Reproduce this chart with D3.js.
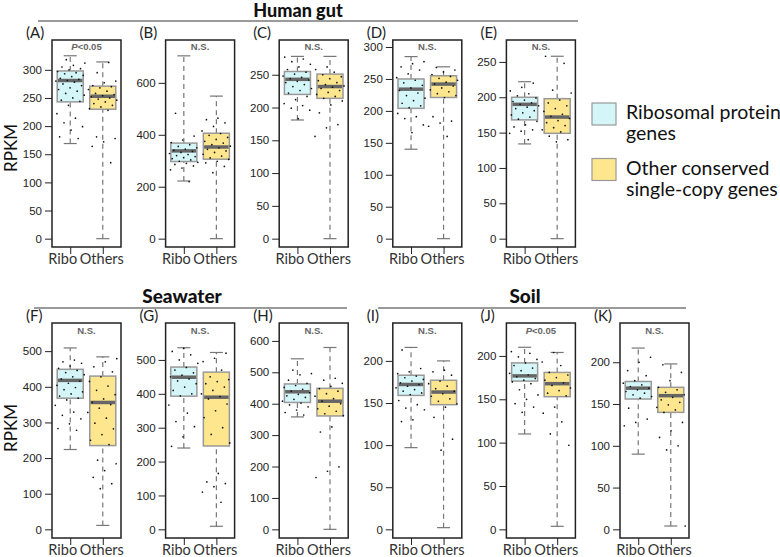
<!DOCTYPE html>
<html>
<head>
<meta charset="utf-8">
<style>
  body { margin: 0; background: #fff; }
  .axis .domain { display: none; }
  .axis text { font-family: "Liberation Sans", Arial, sans-serif; font-size: 11.5px; fill: #222; }
  .axis line { stroke: #222; }
  .xaxis text { font-family: Lato, sans-serif; font-size: 14.5px; fill: #333; }
</style>
</head>
<body>
<svg width="780" height="557"></svg>
<script src="https://d3js.org/d3.v7.min.js"></script>
<script>
  // Panels and their section
  var panels = ["A", "B", "C", "D", "E", "F", "G", "H", "I", "J", "K"];
  var groups = ["Ribo", "Others"];
  var sigLabels = ["P<0.05", "N.S.", "N.S.", "N.S.", "N.S.", "N.S.", "N.S.", "N.S.", "N.S.", "P<0.05", "N.S."];

  // y axis: value at the top of each frame, tick step and last labelled tick
  var yTops = [353, 765, 303, 311, 281, 579, 609, 657, 245, 238, 247];
  var tickSteps = [50, 200, 50, 50, 50, 100, 100, 100, 50, 50, 50];
  var tickMax = [300, 600, 250, 300, 250, 500, 500, 600, 200, 200, 200];

  // box stats: [lower whisker, Q1, median, Q3, upper whisker]
  var riboStats = [
    [169, 243, 281, 298, 325], [222, 297, 338, 368, 704], [181, 220, 243, 255, 278],
    [140, 204, 234, 250, 285], [134, 168, 190, 200, 222], [224, 368, 418, 449, 509],
    [240, 393, 449, 479, 536], [358, 404, 438, 463, 543], [97, 159, 172, 183, 216],
    [110, 171, 177, 192, 210], [90, 156, 169, 177, 217]
  ];
  var othersStats = [
    [0, 230, 253, 271, 314], [0, 306, 353, 406, 549], [0, 214, 232, 251, 278],
    [0, 221, 242, 255, 269], [0, 149, 172, 198, 258], [11, 235, 356, 430, 484],
    [9, 246, 390, 464, 522], [0, 361, 408, 449, 579], [2, 148, 163, 177, 200],
    [3.5, 153, 168, 181, 204], [4, 140, 160, 170, 198]
  ];

  // individual genes (RPKM)
  var riboPoints = [
    [318, 312, 308, 305, 302, 300, 297, 295, 293, 290, 288, 285, 283, 281, 280, 278, 275, 272, 268, 265, 262, 258, 255, 250, 246, 244, 237, 222, 214, 206, 199, 193, 181, 178],
    [483, 395, 380, 370, 362, 355, 350, 345, 340, 336, 332, 328, 324, 320, 316, 312, 308, 303, 298, 294, 290, 286, 280, 272, 265, 220],
    [277, 274, 270, 266, 262, 258, 254, 251, 248, 246, 244, 242, 240, 238, 235, 232, 229, 226, 222, 217, 212, 206, 203, 199, 196, 183],
    [277, 274, 269, 264, 258, 252, 248, 244, 240, 236, 232, 228, 224, 220, 216, 212, 208, 205, 196, 191, 188, 178, 166],
    [220, 214, 209, 205, 202, 199, 196, 194, 192, 190, 188, 186, 184, 181, 178, 175, 172, 169, 166, 161, 158, 154, 152, 149, 140],
    [475, 470, 466, 458, 452, 446, 440, 434, 428, 422, 416, 410, 404, 398, 392, 386, 380, 374, 368, 363, 348, 329, 320, 310, 296, 283, 278],
    [534, 525, 515, 500, 490, 478, 470, 462, 455, 450, 444, 438, 430, 420, 410, 400, 394, 367, 343, 318, 303, 273, 245],
    [507, 496, 492, 475, 465, 458, 452, 446, 440, 435, 430, 425, 420, 414, 408, 402, 396, 390, 380, 372, 364],
    [213, 191, 187, 185, 182, 180, 178, 176, 174, 172, 170, 168, 166, 164, 162, 160, 153, 148, 144, 142, 130, 128],
    [205, 203, 199, 196, 192, 189, 186, 183, 180, 178, 176, 174, 172, 170, 168, 161, 155, 150, 145, 141, 135],
    [206, 200, 190, 184, 178, 175, 173, 171, 169, 167, 165, 163, 161, 159, 157, 145, 132, 128, 124]
  ];
  var othersPoints = [
    [313, 295, 280, 277, 272, 270, 268, 265, 262, 258, 256, 254, 252, 250, 248, 246, 243, 240, 237, 234, 231, 228, 181, 178, 172, 164, 135],
    [464, 458, 446, 432, 415, 405, 398, 390, 382, 375, 368, 362, 356, 350, 344, 338, 332, 325, 318, 311, 305, 298, 292, 278, 254],
    [262, 258, 254, 250, 247, 244, 241, 238, 235, 233, 231, 229, 226, 223, 220, 217, 214, 210, 204, 192, 174, 169, 156],
    [268, 264, 261, 257, 254, 251, 248, 245, 242, 239, 236, 233, 230, 227, 224, 221, 191, 184, 181, 176, 160],
    [258, 248, 210, 206, 196, 192, 188, 184, 180, 176, 173, 170, 167, 164, 160, 157, 154, 151, 145, 140, 137],
    [479, 470, 456, 442, 428, 415, 402, 390, 378, 366, 356, 350, 340, 328, 312, 298, 282, 266, 250, 238, 194, 184, 165, 146, 128, 114],
    [520, 505, 495, 470, 450, 442, 436, 430, 420, 410, 400, 392, 385, 370, 350, 330, 300, 280, 255, 165, 140, 135, 126, 110, 80],
    [481, 475, 465, 455, 448, 440, 432, 424, 416, 408, 400, 392, 384, 376, 368, 362, 326, 310, 199, 185, 165],
    [189, 187, 183, 176, 173, 170, 167, 164, 161, 158, 155, 152, 149, 145, 133, 107, 94],
    [204, 193, 189, 181, 178, 175, 172, 169, 166, 163, 160, 157, 154, 141, 134, 124, 110, 97],
    [197, 188, 178, 170, 167, 164, 161, 158, 155, 152, 149, 146, 143, 140, 128, 118, 110, 100, 95, 4]
  ];

  var sections = ["Human gut", "Seawater", "Soil"];
  var legendLabels = [["Ribosomal protein", "genes"], ["Other conserved", "single-copy genes"]];
  var colors = ["#d4f6f9", "#fde68d"];

  // layout
  var svg = d3.select("svg");
  var rowOf = [0, 0, 0, 0, 0, 1, 1, 1, 1, 1, 1],
    slotOf = [0, 1, 2, 3, 4, 0, 1, 2, 3, 4, 5],
    rowTop = [40, 323],
    rowBottom = [247, 538],
    left0 = 52,
    slotStep = 113.6,
    frameW = 69;

  // section headings with rule underneath
  var heads = [
    { cx: 298, base: 16.5, ly: 21, x1: 38, x2: 578, size: 18 },
    { cx: 182, base: 303, ly: 308, x1: 34, x2: 347, size: 19 },
    { cx: 525, base: 303, ly: 308, x1: 378, x2: 686, size: 19 }
  ];
  heads.forEach(function(h, i) {
    svg.append("line")
      .attr("x1", h.x1).attr("x2", h.x2)
      .attr("y1", h.ly).attr("y2", h.ly)
      .attr("stroke", "#9a9a9a")
      .attr("stroke-width", 2);
    svg.append("text")
      .attr("x", h.cx).attr("y", h.base)
      .attr("text-anchor", "middle")
      .attr("font-family", "Lato, sans-serif")
      .attr("font-weight", 900)
      .attr("font-size", h.size)
      .attr("fill", "#111")
      .text(sections[i]);
  });

  // RPKM y titles
  [148, 428].forEach(function(cy) {
    svg.append("text")
      .attr("transform", "translate(17," + cy + ") rotate(-90)")
      .attr("text-anchor", "middle")
      .attr("font-family", "Lato, sans-serif")
      .attr("font-size", 17)
      .attr("fill", "#111")
      .text("RPKM");
  });

  // deterministic horizontal spread for the strip points
  function spread(i) {
    return ((i * 0.61803398875 + 0.37) % 1) - 0.5;
  }

  panels.forEach(function(p, i) {
    var r = rowOf[i],
      h = rowBottom[r] - rowTop[r],
      x0 = left0 + slotOf[i] * slotStep;

    var g = svg.append("g").attr("transform", "translate(" + x0 + "," + rowTop[r] + ")");

    var y = d3.scaleLinear().domain([-0.042 * yTops[i], yTops[i]]).range([h, 0]);
    var x = d3.scalePoint().domain(groups).range([0, frameW]).padding(0.56);
    var bw = x.step() * 0.8,
      cap = bw * 0.5;

    // y axis
    g.append("g")
      .attr("class", "axis")
      .call(d3.axisLeft(y)
        .tickValues(d3.range(0, tickMax[i] + 1, tickSteps[i]))
        .tickSize(7)
        .tickPadding(3));

    // x axis
    var xa = g.append("g")
      .attr("class", "axis xaxis")
      .attr("transform", "translate(0," + h + ")")
      .call(d3.axisBottom(x).tickSize(7).tickPadding(0));
    xa.selectAll(".tick text").attr("dx", function(d) { return d === "Ribo" ? -8 : -1.5; });

    var stats = [riboStats[i], othersStats[i]];
    var pts = [riboPoints[i], othersPoints[i]];

    groups.forEach(function(grp, k) {
      var s = stats[k], cx = x(grp);
      var bg = g.append("g");
      // whiskers
      bg.selectAll("line.wh")
        .data([[s[0], s[1]], [s[3], s[4]]])
        .enter().append("line")
        .attr("x1", cx).attr("x2", cx)
        .attr("y1", function(d) { return y(d[0]); })
        .attr("y2", function(d) { return y(d[1]); })
        .attr("stroke", "#777")
        .attr("stroke-width", 1.2)
        .attr("stroke-dasharray", "5,4");
      bg.selectAll("line.cap")
        .data([s[0], s[4]])
        .enter().append("line")
        .attr("x1", cx - cap / 2).attr("x2", cx + cap / 2)
        .attr("y1", function(d) { return y(d); })
        .attr("y2", function(d) { return y(d); })
        .attr("stroke", "#777")
        .attr("stroke-width", 1.2);
      // box
      bg.append("rect")
        .attr("x", cx - bw / 2)
        .attr("width", bw)
        .attr("y", y(s[3]))
        .attr("height", y(s[1]) - y(s[3]))
        .attr("fill", colors[k])
        .attr("stroke", "#999")
        .attr("stroke-width", 1.5);
      // median
      bg.append("line")
        .attr("x1", cx - bw / 2 + 0.8).attr("x2", cx + bw / 2 - 0.8)
        .attr("y1", y(s[2])).attr("y2", y(s[2]))
        .attr("stroke", "#666")
        .attr("stroke-width", 3.5);
      // strip points
      bg.selectAll("circle")
        .data(pts[k])
        .enter().append("circle")
        .attr("cx", function(d, j) { return cx + spread(j + k * 7 + i * 3) * 30; })
        .attr("cy", function(d) { return y(d); })
        .attr("r", 0.85)
        .attr("fill", "#111");
    });

    // frame
    g.append("rect")
      .attr("width", frameW)
      .attr("height", h)
      .attr("fill", "none")
      .attr("stroke", "#222")
      .attr("stroke-width", 1.5);

    // significance
    var sig = g.append("text")
      .attr("x", frameW / 2)
      .attr("y", r === 0 ? 9.5 : 11)
      .attr("text-anchor", "middle")
      .attr("font-family", "'Liberation Sans', Arial, sans-serif")
      .attr("font-weight", "bold")
      .attr("font-size", 9.5)
      .attr("fill", "#666");
    if (sigLabels[i].charAt(0) === "P") {
      sig.append("tspan").attr("font-style", "italic").text("P");
      sig.append("tspan").text(sigLabels[i].slice(1));
    } else {
      sig.text(sigLabels[i]);
    }

    // panel letter
    g.append("text")
      .attr("x", -26)
      .attr("y", -2)
      .attr("font-family", "Lato, sans-serif")
      .attr("font-size", 15)
      .attr("fill", "#222")
      .text("(" + p + ")");
  });

  // legend
  var legend = svg.append("g")
    .selectAll("g")
    .data(legendLabels)
    .enter().append("g")
    .attr("transform", function(d, i) { return "translate(592," + (103 + i * 55.5) + ")"; });
  legend.append("rect")
    .attr("width", 24)
    .attr("height", 22)
    .attr("fill", function(d, i) { return colors[i]; })
    .attr("stroke", "#999")
    .attr("stroke-width", 1.2);
  legend.selectAll("text")
    .data(function(d) { return d; })
    .enter().append("text")
    .attr("x", 34)
    .attr("y", function(d, j) { return 16 + j * 21; })
    .attr("font-family", "Lato, sans-serif")
    .attr("font-size", 19.5)
    .attr("fill", "#111")
    .text(function(d) { return d; });
</script>
</body>
</html>
